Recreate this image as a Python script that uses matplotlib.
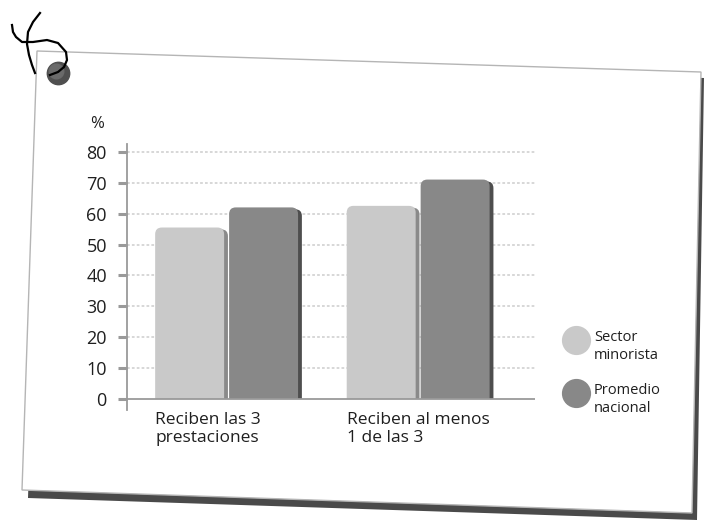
import matplotlib
matplotlib.use("Agg")
import matplotlib.pyplot as plt
from matplotlib.patches import Polygon, FancyBboxPatch, Rectangle
import numpy as np

# data
categories = ["Reciben las 3\nprestaciones", "Reciben al menos\n1 de las 3"]
series_names = ["Sector\nminorista", "Promedio\nnacional"]
sector_minorista = [55.5, 62.5]
promedio_nacional = [62, 71]
yticks = [0, 10, 20, 30, 40, 50, 60, 70, 80]
colors = ["#c9c9c9", "#888888"]
shadow_colors = ["#8a8a8a", "#4e4e4e"]

plt.rcParams['font.family'] = ['Open Sans', 'DejaVu Sans']
txt = "#1f1f1f"

fig = plt.figure(figsize=(7.05, 5.22), dpi=100)
fig.patch.set_facecolor("white")

# background "card" drawn in pixel coordinates
bg = fig.add_axes([0, 0, 1, 1], zorder=0)
bg.set_xlim(0, 705)
bg.set_ylim(522, 0)
bg.axis("off")
bg.add_patch(Polygon([(42, 56), (704, 78), (697, 520), (28, 498)], closed=True,
                     fc="#4a4a4a", ec="none"))
bg.add_patch(Polygon([(37, 51), (701, 72), (692, 513), (22, 490)], closed=True,
                     fc="white", ec="#b5b5b5", lw=1.0))
# pin and string
bg.scatter([58], [73], s=260, color="#4f4f4f", zorder=3)
bg.scatter([56], [71], s=110, color="#6a6a6a", zorder=4)
sx = [40, 33, 28, 27, 29, 32, 35]
sy = [13, 22, 32, 44, 55, 65, 73]
bg.plot(sx, sy, color="black", lw=1.6, zorder=5)
lx = [12, 13, 16, 22, 33, 47, 58, 66, 67, 64, 58, 50]
ly = [25, 32, 37, 42, 42, 40, 43, 52, 60, 67, 72, 75]
bg.plot(lx, ly, color="black", lw=1.6, zorder=5)

# chart
ax = fig.add_axes([127 / 705, (522 - 410) / 522, 408 / 705, 266 / 522], zorder=2)
ax.patch.set_alpha(0)
x = np.arange(len(categories))
w = 0.36
off = 0.193
rs = 0.035
asp = 62


def rounded_bar(left, height, color, z):
    p = FancyBboxPatch((left, -6), w, height + 6,
                       boxstyle="round,pad=0,rounding_size=%g" % rs,
                       mutation_aspect=asp, fc=color, ec="none", zorder=z)
    ax.add_patch(p)
    p.set_clip_path(Rectangle((left - 0.1, 0), w + 0.2, 200, transform=ax.transData))


for i, (vals, c, sc) in enumerate(zip([sector_minorista, promedio_nacional], colors, shadow_colors)):
    pos = x + (i * 2 - 1) * off
    for p, v in zip(pos, vals):
        rounded_bar(p - w / 2 + 0.02, v - 0.6, sc, 2)
        rounded_bar(p - w / 2, v, c, 3)

ax.set_xlim(-0.52, 1.61)
ax.set_ylim(-3.5, 82.5)
ax.set_yticks(yticks)
ax.set_yticklabels([str(t) for t in yticks], fontsize=13, color=txt)
ax.set_xticks([])
for t in yticks[1:]:
    ax.axhline(t, color="#d4d4d4", lw=1.3, ls=(0, (1.5, 1.2)), zorder=1)
ax.axhline(0, color="#9a9a9a", lw=1.3, zorder=4)
ax.tick_params(axis="y", length=6.5, width=2.2, color="#9a9a9a", pad=8)
for s in ["top", "right", "bottom"]:
    ax.spines[s].set_visible(False)
ax.spines["left"].set_color("#9a9a9a")
ax.spines["left"].set_linewidth(1.3)
ax.text(-0.09, 1.045, "%", transform=ax.transAxes, fontsize=12, color=txt,
        ha="left", va="bottom")

for xi, lab in zip(x, categories):
    ax.text(xi - off - w / 2, -4.3, lab, fontsize=12.5, color=txt,
            ha="left", va="top", linespacing=1.1)

# legend
for (cy, name, c) in zip([340, 393], series_names, colors):
    bg.scatter([576], [cy], s=400, color=c, zorder=3)
    bg.text(594, cy - 10, name, fontsize=10.5, color=txt, ha="left", va="top",
            linespacing=1.25)

fig.savefig("out.png", dpi=100)
